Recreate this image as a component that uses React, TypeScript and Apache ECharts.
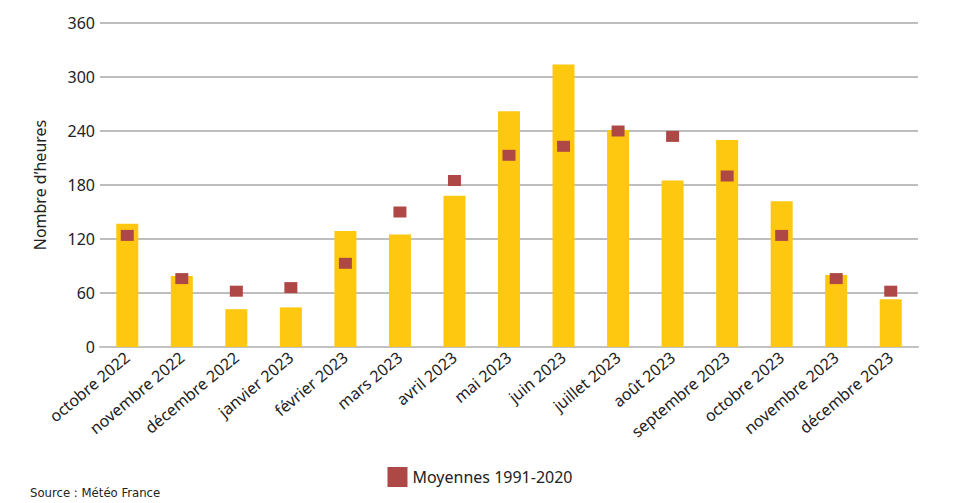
import React, { useEffect, useRef } from "react";
import * as echarts from "echarts";

const categories = [
  "octobre 2022", "novembre 2022", "décembre 2022", "janvier 2023", "février 2023",
  "mars 2023", "avril 2023", "mai 2023", "juin 2023", "juillet 2023", "août 2023",
  "septembre 2023", "octobre 2023", "novembre 2023", "décembre 2023",
];
const sunshineHours = [137, 79, 42, 44, 129, 125, 168, 262, 314, 241, 185, 230, 162, 80, 53];
const normals19912020 = [124, 76, 62, 66, 93, 150, 185, 213, 223, 240, 234, 190, 124, 76, 62];
const yTicks = { min: 0, max: 360, interval: 60 };

const FONT = "'Noto Sans', 'Open Sans', sans-serif";

export default function App() {
  const ref = useRef<HTMLDivElement>(null);
  useEffect(() => {
    document.body.style.margin = "0";
    const chart = echarts.init(ref.current!, null, { renderer: "svg" });
    chart.setOption({
      animation: false,
      backgroundColor: "#ffffff",
      textStyle: { fontFamily: FONT },
      grid: { left: 100, right: 42, top: 23, bottom: 156 },
      legend: {
        data: [{ name: "Moyennes 1991-2020", icon: "rect" }],
        top: 462,
        left: "center",
        itemWidth: 20,
        itemHeight: 20,
        itemGap: 8,
        textStyle: { fontFamily: FONT, fontSize: 16, color: "#222" },
      },
      graphic: [
        {
          type: "text",
          left: 30,
          top: 486,
          style: { text: "Source : Météo France", font: `13px 'DejaVu Sans Condensed', ${FONT}`, fill: "#222" },
        },
      ],
      xAxis: {
        type: "category",
        data: categories,
        axisLine: { lineStyle: { color: "#c2c2c2", width: 2 } },
        axisTick: { show: false },
        axisLabel: {
          rotate: 40,
          interval: 0,
          margin: 8,
          fontSize: 16,
          color: "#222",
          fontFamily: FONT,
        },
      },
      yAxis: {
        type: "value",
        min: yTicks.min,
        max: yTicks.max,
        interval: yTicks.interval,
        name: "Nombre d’heures",
        nameLocation: "middle",
        nameGap: 52,
        nameRotate: 90,
        nameTextStyle: { fontSize: 16, color: "#222", fontFamily: FONT },
        axisLabel: { fontSize: 16, color: "#222", margin: 5, fontFamily: FONT },
        splitLine: { lineStyle: { color: "#a9a9a9", width: 1.5 } },
        axisLine: { show: false },
        axisTick: { show: false },
      },
      series: [
        {
          name: "Heures d'ensoleillement",
          type: "bar",
          data: sunshineHours,
          barWidth: 22,
          itemStyle: { color: "#FDC80F" },
        },
        {
          name: "Moyennes 1991-2020",
          type: "scatter",
          data: normals19912020,
          symbol: "rect",
          symbolSize: [13, 11],
          itemStyle: { color: "#AD4846", opacity: 1 },
          z: 5,
        },
      ],
    });
    return () => chart.dispose();
  }, []);
  return <div ref={ref} style={{ width: 960, height: 503 }} />;
}
